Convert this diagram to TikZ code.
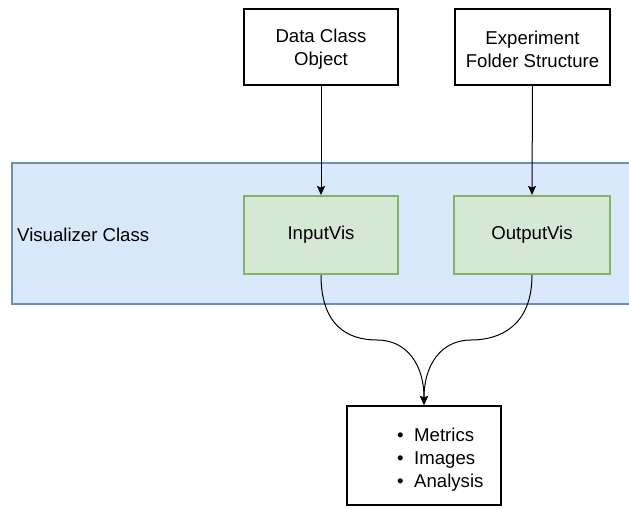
\documentclass[tikz,border=0pt]{standalone}
\usepackage{fontspec}
\setmainfont{Liberation Sans}
\usetikzlibrary{arrows.meta}
\definecolor{bluefill}{HTML}{DAE8FC}
\definecolor{bluestroke}{HTML}{6C8EBF}
\definecolor{greenfill}{HTML}{D5E8D4}
\definecolor{greenstroke}{HTML}{82B366}
\tikzset{
  txt/.style={font=\fontsize{18.6}{23}\selectfont},
  plainbox/.style={draw=black, line width=2pt, fill=white, inner sep=0pt, align=center,
    minimum width=154pt, minimum height=76pt},
  boxtext/.style={label={[txt, align=center, yshift=-2pt]center:#1}},
  visbox/.style={draw=greenstroke, line width=2pt, fill=greenfill, inner sep=0pt, align=center,
    minimum width=154pt, minimum height=78pt, txt},
  flow/.style={draw=black, line width=1pt, -{Stealth[length=9pt,width=8pt,inset=1.5pt]}},
}
\begin{document}
\begin{tikzpicture}[x=1pt,y=-1pt]
  \useasboundingbox (0,0) rectangle (629,508);
  \clip (0,0) rectangle (629,508);

  % container for the visualizer class
  \node[draw=bluestroke, line width=2pt, fill=bluefill, inner sep=0pt,
        minimum width=628pt, minimum height=141pt] (vis) at (326,233.5) {};
  \node[anchor=west, inner sep=0pt, txt] (vislabel) at (17,235) {Visualizer Class};

  % sources
  \node[plainbox, boxtext={Data Class\\Object}] (dco) at (321,47) {};
  \node[plainbox, minimum width=155pt, boxtext={Experiment\\Folder Structure}] (efs) at (532.5,47) {};

  % visualizers
  \node[visbox] (inv) at (321,235) {InputVis};
  \node[visbox, minimum width=156pt] (outv) at (532,235) {OutputVis};
  % (boxes are drawn from y=196 to 274)

  % result
  \node[plainbox, minimum height=99pt] (res) at (424,455.5) {};
  \node[anchor=north west, inner sep=0pt, txt, align=left] (items) at (397,428)
    {\textbullet\hspace{10.5pt}Metrics\\ \textbullet\hspace{10.5pt}Images\\ \textbullet\hspace{10.5pt}Analysis};

  % connectors
  \draw[flow] (dco.south) -- (inv.north);
  \draw[flow] (efs.south) -- (outv.north);

  \coordinate (jl) at (377,340);
  \coordinate (jr) at (471,340);
  \draw[flow] (inv.south) .. controls +(0,50) and +(-30,0) .. (jl)
              .. controls +(30,0) and +(0,-40) .. (res.north);
  \draw[flow] (outv.south) .. controls +(0,50) and +(30,0) .. (jr)
              .. controls +(-30,0) and +(0,-40) .. (res.north);
\end{tikzpicture}
\end{document}
